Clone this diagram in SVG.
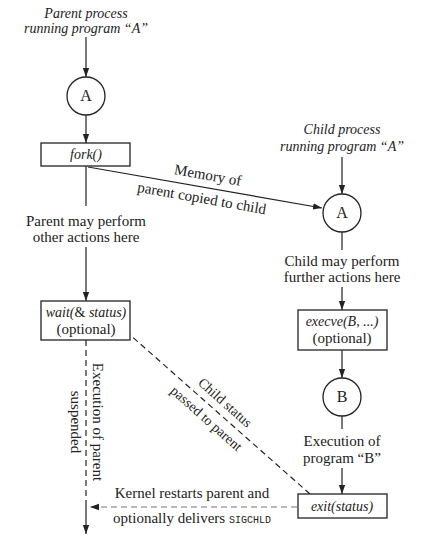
<svg xmlns="http://www.w3.org/2000/svg" width="438" height="542" viewBox="0 0 438 542" font-family="'Liberation Serif', 'DejaVu Serif', serif">
<style>
text{font-family:'Liberation Serif','DejaVu Serif',serif;font-size:15px;fill:#222;text-anchor:middle}
.i{font-style:italic;font-size:14px}
.m{font-family:'Liberation Mono','DejaVu Sans Mono',monospace;font-size:10px}
.ln{stroke:#222;stroke-width:1.2;fill:none}
.d{stroke-dasharray:6,4}
.g{stroke:#777}
.box{fill:#fff;stroke:#222;stroke-width:1.3}
</style>
<defs>
<marker id="ah" viewBox="0 0 10 10" refX="10" refY="5" markerWidth="9" markerHeight="9" markerUnits="userSpaceOnUse" orient="auto"><path d="M0,1.5 L10,5 L0,8.5 Z" fill="#222"/></marker>
</defs>
<g id="connectors">
<line class="ln" x1="86" y1="37" x2="86" y2="77" marker-end="url(#ah)"/>
<line class="ln" x1="86" y1="115" x2="86" y2="143" marker-end="url(#ah)"/>
<line class="ln" x1="86" y1="166" x2="86" y2="206"/>
<line class="ln" x1="86" y1="247" x2="86" y2="301" marker-end="url(#ah)"/>
<line class="ln d" x1="86" y1="340" x2="86" y2="506"/>
<line class="ln" x1="86" y1="506" x2="86" y2="534" marker-end="url(#ah)"/>
<line class="ln" x1="88" y1="167" x2="322" y2="208" marker-end="url(#ah)"/>
<line class="ln" x1="342" y1="157" x2="342" y2="194" marker-end="url(#ah)"/>
<line class="ln" x1="342" y1="232" x2="342" y2="250"/>
<line class="ln" x1="342" y1="287" x2="342" y2="310" marker-end="url(#ah)"/>
<line class="ln" x1="342" y1="350" x2="342" y2="378" marker-end="url(#ah)"/>
<line class="ln" x1="342" y1="416" x2="342" y2="429"/>
<line class="ln" x1="342" y1="468" x2="342" y2="494" marker-end="url(#ah)"/>
<line class="ln d" x1="310" y1="494" x2="120" y2="326" marker-end="url(#ah)"/>
<line class="ln d g" x1="297" y1="507" x2="90" y2="507" marker-end="url(#ah)"/>
</g>
<g id="parent-title"><text class="i" x="86" y="18">Parent process</text><text class="i" x="86" y="33">running program “A”</text></g>
<g id="parentA"><circle cx="86" cy="96" r="19" class="box"/><text x="86" y="101" style="font-size:16px">A</text></g>
<g id="fork"><rect x="41" y="143" width="89" height="23" class="box"/><text class="i" x="86" y="159">fork()</text></g>
<g id="parent-actions"><text x="86" y="226">Parent may perform</text><text x="86" y="242">other actions here</text></g>
<g id="wait"><rect x="41" y="301" width="89" height="39" class="box"/><text x="86" y="317" style="font-size:14px"><tspan class="i">wait(</tspan>&amp; <tspan class="i">status)</tspan></text><text x="86" y="334">(optional)</text></g>
<g id="suspended"><text transform="translate(97,422) rotate(90)" x="0" y="4">Execution of parent</text><text transform="translate(75,422) rotate(90)" x="0" y="4">suspended</text></g>
<g id="memory-label"><text transform="translate(207,180) rotate(10)">Memory of</text><text transform="translate(201,203) rotate(10)">parent copied to child</text></g>
<g id="child-title"><text class="i" x="342" y="134">Child process</text><text class="i" x="342" y="151">running program “A”</text></g>
<g id="childA"><circle cx="342" cy="213" r="19" class="box"/><text x="342" y="218" style="font-size:16px">A</text></g>
<g id="child-actions"><text x="342" y="266">Child may perform</text><text x="342" y="282">further actions here</text></g>
<g id="execve"><rect x="298" y="310" width="89" height="40" class="box"/><text class="i" x="342" y="326">execve(B, ...)</text><text x="342" y="343">(optional)</text></g>
<g id="childB"><circle cx="342" cy="397" r="19" class="box"/><text x="342" y="402" style="font-size:16px">B</text></g>
<g id="exec-b"><text x="342" y="446">Execution of</text><text x="342" y="463">program “B”</text></g>
<g id="exit"><rect x="298" y="494" width="89" height="24" class="box"/><text class="i" x="342" y="511">exit(status)</text></g>
<g id="child-status"><text transform="translate(222,406) rotate(41.6)" style="font-size:14px">Child status</text><text transform="translate(206,419) rotate(41.6)" y="4" style="font-size:14px">passed to parent</text></g>
<g id="kernel"><text x="192" y="498">Kernel restarts parent and</text><text x="192" y="523">optionally delivers <tspan class="m">SIGCHLD</tspan></text></g>
</svg>
